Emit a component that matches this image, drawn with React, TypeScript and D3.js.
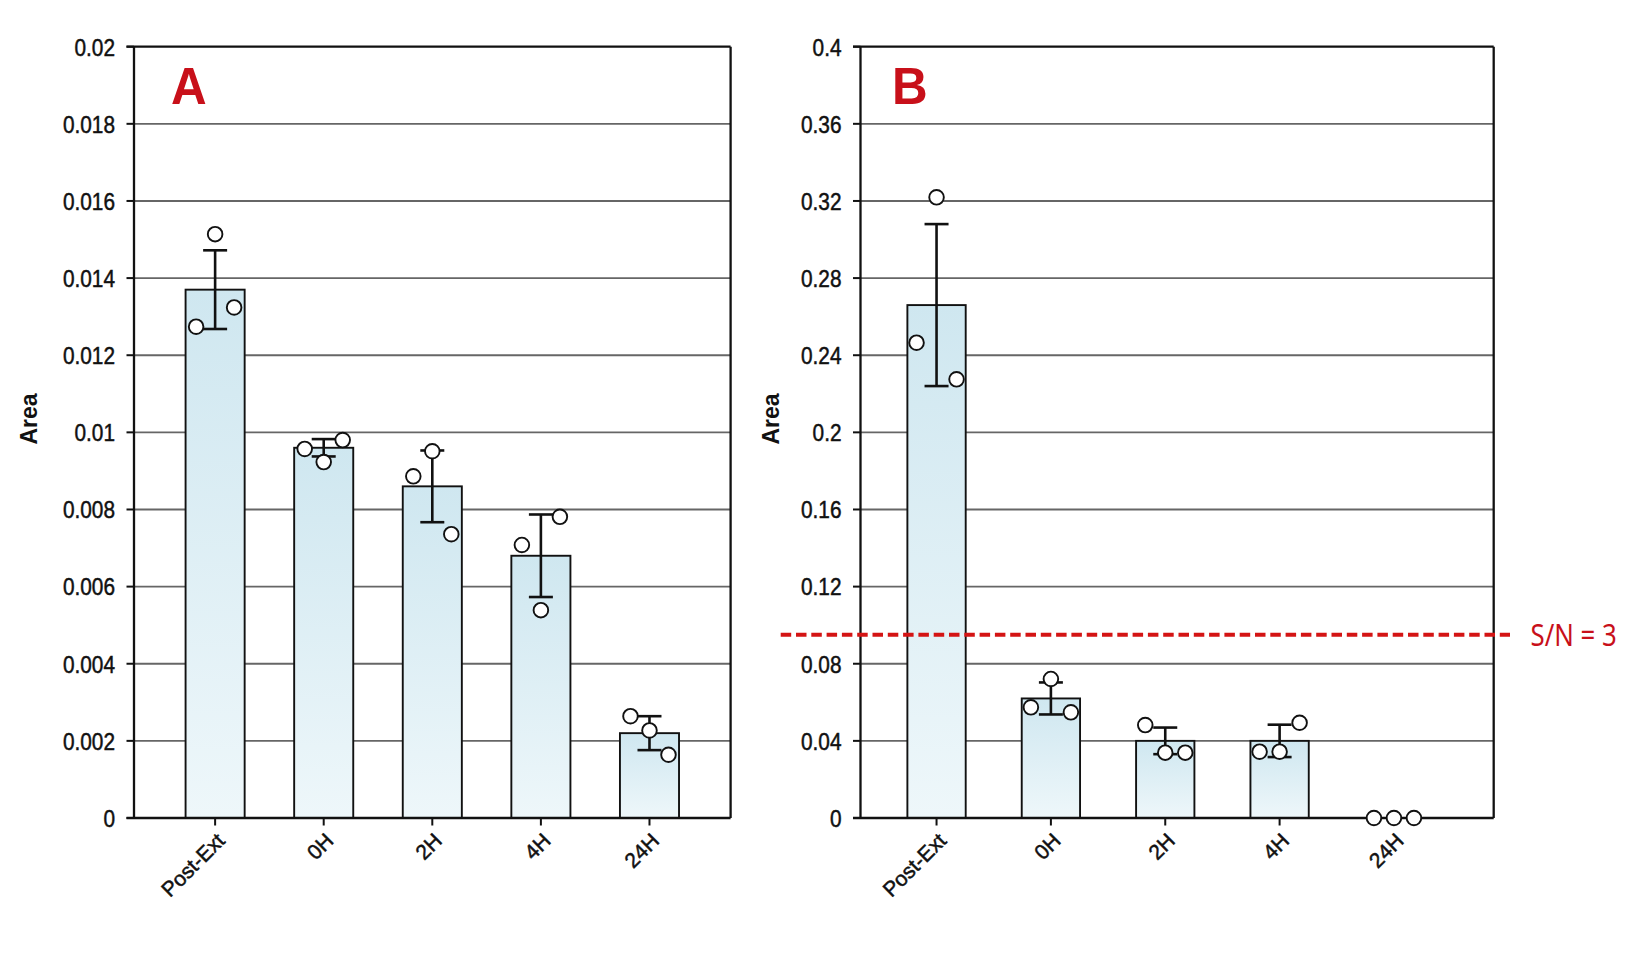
import React from "react";
import * as d3 from "d3";

// ---------- data ----------
const categories = ["Post-Ext", "0H", "2H", "4H", "24H"];

const meanA = [0.0137, 0.0096, 0.0086, 0.0068, 0.0022];
const errA = [0.00102, 0.000225, 0.00093, 0.00107, 0.00044];
const pointsA = [
  [0.01274, 0.01514, 0.01324],
  [0.00957, 0.00923, 0.0098],
  [0.00886, 0.00951, 0.00736],
  [0.00708, 0.00539, 0.00781],
  [0.00264, 0.00227, 0.00164],
];
const ticksA = [0, 0.002, 0.004, 0.006, 0.008, 0.01, 0.012, 0.014, 0.016, 0.018, 0.02];

const meanB = [0.266, 0.062, 0.04, 0.04, 0];
const errB = [0.042, 0.0083, 0.0069, 0.0084, 0];
const pointsB = [
  [0.2465, 0.3219, 0.2275],
  [0.0574, 0.0721, 0.0548],
  [0.0482, 0.0339, 0.0339],
  [0.0344, 0.0344, 0.0494],
  [0, 0, 0],
];
const ticksB = [0, 0.04, 0.08, 0.12, 0.16, 0.2, 0.24, 0.28, 0.32, 0.36, 0.4];

const snLevel = 0.095;
const snLabel = "S/N = 3";
const yTitle = "Area";

// ---------- layout / style ----------
const W = 1647;
const H = 955;
const TOP = 46.7;
const BOTTOM = 818;
const RED = "#c8101a";
const DASH_RED = "#d41414";
const INK = "#111";
const GRID = "#666";
const SANS = "'Liberation Sans', Arial, sans-serif";
const fmt = d3.format("~g");

type PanelProps = {
  id: string;
  letter: string;
  letterX: number;
  means: number[];
  errs: number[];
  points: number[][];
  ticks: number[];
  left: number;
  right: number;
  bandRight: number;
  padInner: number;
  padOuter: number;
  jitter: number[];
  yLabelX: number;
  children?: React.ReactNode;
};

function Panel(p: PanelProps) {
  const y = d3
    .scaleLinear()
    .domain([0, p.ticks[p.ticks.length - 1]])
    .range([BOTTOM, TOP]);
  const x = d3
    .scaleBand<string>()
    .domain(categories)
    .range([p.left, p.bandRight])
    .paddingInner(p.padInner)
    .paddingOuter(p.padOuter);
  const bw = x.bandwidth();
  const tickLen = 7.5;
  const capHalf = 12;

  return (
    <g>
      {/* gridlines */}
      {p.ticks.slice(1, -1).map((t) => (
        <line
          key={"g" + t}
          x1={p.left}
          x2={p.right}
          y1={y(t)}
          y2={y(t)}
          stroke={GRID}
          strokeWidth={1.9}
        />
      ))}
      {/* bars */}
      {categories.map((c, i) =>
        p.means[i] > 0 ? (
          <rect
            key={"b" + c}
            x={x(c)!}
            y={y(p.means[i])}
            width={bw}
            height={y(0) - y(p.means[i])}
            fill={`url(#grad${p.id})`}
            stroke={INK}
            strokeWidth={1.9}
          />
        ) : null
      )}
      {/* error bars */}
      {categories.map((c, i) => {
        if (!(p.errs[i] > 0)) return null;
        const cx = x(c)! + bw / 2;
        const hi = y(p.means[i] + p.errs[i]);
        const lo = y(p.means[i] - p.errs[i]);
        return (
          <g key={"e" + c} stroke={INK} strokeWidth={2.6}>
            <line x1={cx} x2={cx} y1={hi} y2={lo} />
            <line x1={cx - capHalf} x2={cx + capHalf} y1={hi} y2={hi} />
            <line x1={cx - capHalf} x2={cx + capHalf} y1={lo} y2={lo} />
          </g>
        );
      })}
      {/* frame */}
      <g stroke={INK} strokeWidth={2.3} fill="none">
        <line x1={p.left - tickLen} x2={p.right} y1={TOP} y2={TOP} />
        <line x1={p.right} x2={p.right} y1={TOP} y2={BOTTOM} />
        <line x1={p.left} x2={p.left} y1={TOP} y2={BOTTOM} />
        <line x1={p.left - tickLen} x2={p.right} y1={BOTTOM} y2={BOTTOM} />
      </g>
      {/* y ticks */}
      {p.ticks.map((t) => (
        <g key={"t" + t}>
          <line x1={p.left - tickLen} x2={p.left} y1={y(t)} y2={y(t)} stroke={INK} strokeWidth={2} />
          <text
            transform={`translate(${p.left - 19},${y(t) + 8.8}) scale(0.85,1)`}
            textAnchor="end"
            fontFamily={SANS}
            fontSize={24.5}
            fill={INK}
            stroke={INK}
            strokeWidth={0.5}
          >
            {fmt(t)}
          </text>
        </g>
      ))}
      {/* x ticks + labels */}
      {categories.map((c) => {
        const cx = x(c)! + bw / 2;
        return (
          <g key={"x" + c}>
            <line x1={cx} x2={cx} y1={BOTTOM} y2={BOTTOM + 7.5} stroke={INK} strokeWidth={2} />
            <text
              transform={`translate(${cx + 11},${BOTTOM + 24}) rotate(-45)`}
              textAnchor="end"
              fontFamily={SANS}
              fontSize={21}
              fill={INK}
              stroke={INK}
              strokeWidth={0.5}
            >
              {c}
            </text>
          </g>
        );
      })}
      {p.children ? p.children : null}
      {/* points */}
      {categories.map((c, i) =>
        p.points[i].map((v, j) => (
          <circle
            key={"p" + c + j}
            cx={x(c)! + bw / 2 + p.jitter[j]}
            cy={y(v)}
            r={7.3}
            fill="#fff"
            stroke={INK}
            strokeWidth={1.9}
          />
        ))
      )}
      {/* y title */}
      <text
        transform={`translate(${p.yLabelX},419) rotate(-90)`}
        textAnchor="middle"
        dy="0.36em"
        fontFamily={SANS}
        fontWeight="bold"
        fontSize={23}
        fill={INK}
      >
        {yTitle}
      </text>
      {/* panel letter */}
      <text
        transform={`translate(${p.letterX},104) scale(0.95,1)`}
        fontFamily={SANS}
        fontWeight="bold"
        fontSize={52}
        fill={RED}
      >
        {p.letter}
      </text>
    </g>
  );
}

export default function App() {
  const yB = d3
    .scaleLinear()
    .domain([0, ticksB[ticksB.length - 1]])
    .range([BOTTOM, TOP]);
  const snY = yB(snLevel);
  return (
    <svg
      width={W}
      height={H}
      viewBox={`0 0 ${W} ${H}`}
      style={{ position: "absolute", left: 0, top: 0, background: "#fff" }}
    >
      <defs>
        {["A", "B"].map((k) => (
          <linearGradient key={k} id={"grad" + k} x1="0" y1="0" x2="0" y2="1">
            <stop offset="0%" stopColor="#cfe7f0" />
            <stop offset="100%" stopColor="#eef7fa" />
          </linearGradient>
        ))}
      </defs>
      <rect x={0} y={0} width={W} height={H} fill="#fff" />
      <Panel
        id="A"
        letter="A"
        letterX={171}
        means={meanA}
        errs={errA}
        points={pointsA}
        ticks={ticksA}
        left={134}
        right={730.6}
        bandRight={730.6}
        padInner={0.456}
        padOuter={0.475}
        jitter={[-19, 0, 19]}
        yLabelX={29}
      />
      <Panel
        id="B"
        letter="B"
        letterX={892}
        means={meanB}
        errs={errB}
        points={pointsB}
        ticks={ticksB}
        left={860.5}
        right={1493.7}
        bandRight={1470}
        padInner={0.49}
        padOuter={0.41}
        jitter={[-20, 0, 20]}
        yLabelX={771}
      >
        <line
          x1={780.7}
          x2={1510}
          y1={snY}
          y2={snY}
          stroke={DASH_RED}
          strokeWidth={4}
          strokeDasharray="10.5 4.8"
        />
      </Panel>
      <text
        transform={`translate(1530.5,${snY + 11}) scale(0.86,1)`}
        fontFamily="'Noto Sans', 'Open Sans', sans-serif"
        fontSize={30}
        fill={RED}
      >
        {snLabel}
      </text>
    </svg>
  );
}
